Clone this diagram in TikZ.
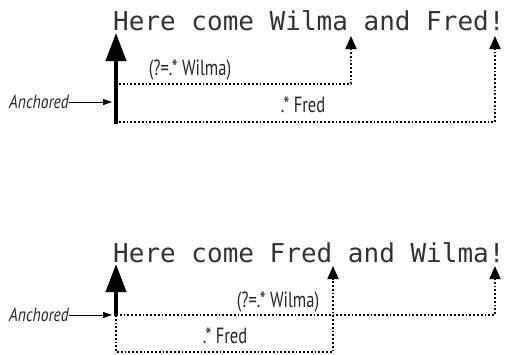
\documentclass[tikz,border=0pt]{standalone}
\usepackage{fontspec}
\setmonofont{DejaVu Sans Mono}
\setsansfont{PT Sans}
\usetikzlibrary{arrows.meta}
\newcommand{\narrow}[1]{\scalebox{0.75}[1]{#1}}

\begin{document}
\begin{tikzpicture}[x=1pt, y=-1pt,
  phrase/.style = {font=\ttfamily\fontsize{26}{26}\selectfont, anchor=base west, inner sep=0pt, text=black!80},
  lbl/.style = {font=\sffamily\fontsize{22}{22}\selectfont, inner sep=0pt, text=black!85},
  anch/.style = {font=\sffamily\itshape\fontsize{19}{19}\selectfont, anchor=east, inner sep=0pt, text=black!85},
  start/.style = {line width=4pt, -{Triangle[width=20pt,length=28pt]}},
  match/.style = {dotted, line width=1.8pt, -{Triangle[width=11pt,length=13pt]}},
  pointer/.style = {line width=0.8pt, -{Triangle[width=6pt,length=9pt]}}]
\useasboundingbox (0,0) rectangle (510,354);

% first string
\node[phrase] (s1) at (113,30) {Here come Wilma and Fred!};
\coordinate (base1) at (116,124);
\coordinate (tip1) at (116,33);
\coordinate (w1) at (351,36);
\coordinate (f1) at (495,36);
\coordinate (lw1) at (119,84);
\coordinate (lf1) at (119,122);
\coordinate (a1) at (112,102);
\draw[start] (base1) -- (tip1);
\draw[match] (lw1) -| (w1);
\draw[match] (lf1) -| (f1);
\node[lbl] (look1) at (190,70) {\narrow{(?=.* Wilma)}};
\node[lbl] (fred1) at (303,105) {\narrow{.* Fred}};
\node[anch] (anc1) at (69,102) {\scalebox{0.82}[1]{Anchored}};
\draw[pointer] (anc1) -- (a1);

% second string
\node[phrase] (s2) at (113,262) {Here come Fred and Wilma!};
\coordinate (base2) at (116,316);
\coordinate (tip2) at (116,264);
\coordinate (w2) at (495,266);
\coordinate (f2) at (333,266);
\coordinate (l2) at (116,315);
\coordinate (low2) at (116,352);
\coordinate (a2) at (112,315);
\draw[start] (base2) -- (tip2);
\draw[match] (l2) -| (w2);
\draw[match] (l2) -- (low2) -| (f2);
\node[lbl] (look2) at (278,302) {\narrow{(?=.* Wilma)}};
\node[lbl] (fred2) at (225,336) {\narrow{.* Fred}};
\node[anch] (anc2) at (69,315) {\scalebox{0.82}[1]{Anchored}};
\draw[pointer] (anc2) -- (a2);
\end{tikzpicture}
\end{document}
